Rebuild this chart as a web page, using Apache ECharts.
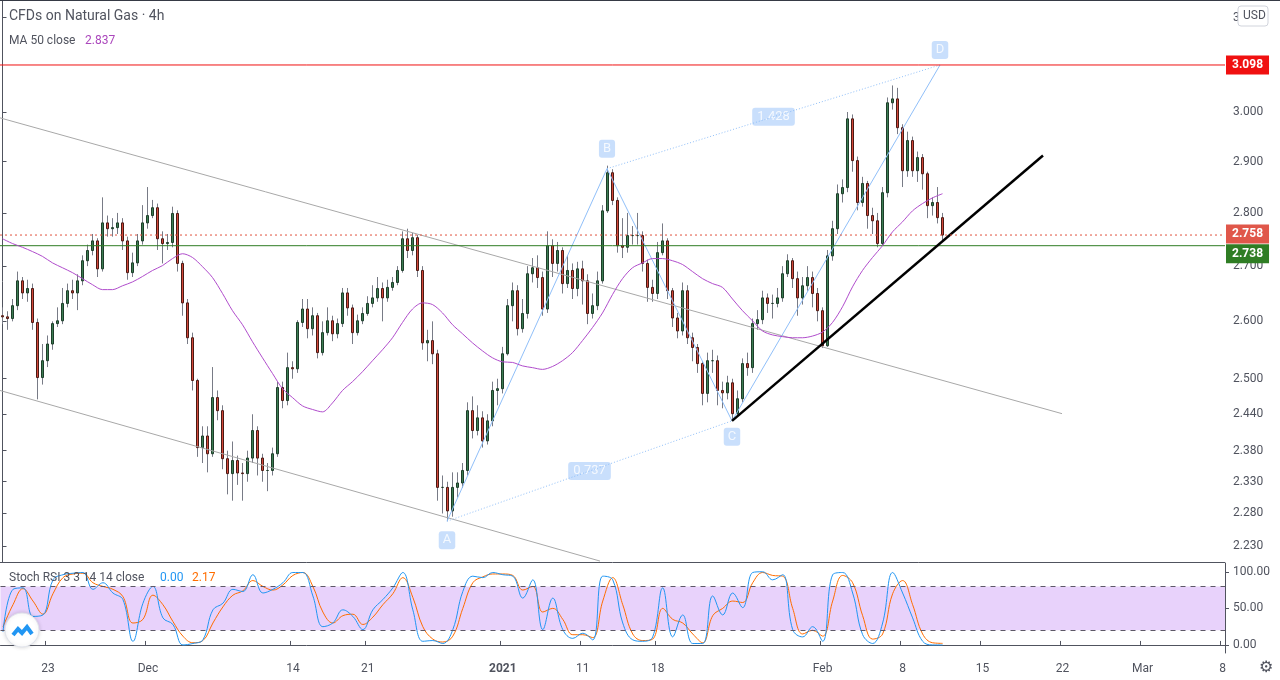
<!DOCTYPE html>
<html>
<head>
<meta charset="utf-8">
<script src="https://cdn.jsdelivr.net/npm/echarts@6/dist/echarts.min.js"></script>
<style>
  html, body { margin: 0; padding: 0; background: #fff; }
  #chart { width: 1280px; height: 680px; }
</style>
</head>
<body>
<div id="chart"></div>
<script>
// closes of each bar (price), first open given separately
var firstOpen = 2.610;
var closes = [2.608,2.605,2.628,2.673,2.651,2.659,2.598,2.502,2.531,2.560,2.596,2.601,2.632,2.655,2.651,2.673,2.710,2.729,2.747,2.695,
  2.781,2.770,2.772,2.781,2.747,2.688,2.706,2.747,2.781,2.795,2.810,2.751,2.742,2.744,2.799,2.705,2.633,2.571,2.497,2.385,
  2.404,2.375,2.468,2.446,2.367,2.343,2.364,2.344,2.343,2.368,2.413,2.368,2.348,2.348,2.375,2.485,2.463,2.519,2.517,2.598,
  2.622,2.587,2.610,2.545,2.580,2.601,2.578,2.596,2.651,2.624,2.580,2.601,2.614,2.632,2.642,2.659,2.642,2.661,2.670,2.692,
  2.751,2.729,2.753,2.692,2.562,2.566,2.543,2.321,2.321,2.284,2.321,2.328,2.348,2.446,2.413,2.434,2.396,2.429,2.480,2.483,
  2.543,2.628,2.655,2.587,2.614,2.686,2.697,2.679,2.622,2.738,2.705,2.729,2.668,2.692,2.659,2.695,2.673,2.614,2.628,2.673,
  2.804,2.878,2.824,2.738,2.735,2.757,2.757,2.757,2.705,2.661,2.650,2.725,2.747,2.655,2.606,2.583,2.655,2.571,2.554,2.526,
  2.475,2.531,2.531,2.480,2.476,2.493,2.441,2.466,2.526,2.519,2.596,2.603,2.642,2.632,2.632,2.642,2.686,2.710,2.677,2.642,
  2.664,2.679,2.650,2.619,2.557,2.719,2.770,2.837,2.849,2.986,2.902,2.820,2.857,2.795,2.785,2.742,2.839,3.019,3.027,2.968,
  2.882,2.942,2.882,2.908,2.876,2.814,2.820,2.791,2.758];
var highs = [2.625,2.618,2.640,2.690,2.680,2.675,2.668,2.605,2.560,2.575,2.600,2.625,2.660,2.668,2.675,2.685,2.720,2.740,2.760,2.752,
  2.830,2.795,2.790,2.800,2.790,2.755,2.725,2.760,2.815,2.850,2.825,2.818,2.765,2.760,2.812,2.805,2.710,2.640,2.580,2.500,
  2.420,2.420,2.520,2.480,2.455,2.380,2.395,2.372,2.360,2.380,2.440,2.420,2.375,2.360,2.385,2.495,2.495,2.545,2.530,2.602,
  2.640,2.640,2.625,2.615,2.600,2.625,2.610,2.605,2.660,2.660,2.630,2.612,2.625,2.645,2.665,2.680,2.670,2.675,2.680,2.700,
  2.765,2.770,2.762,2.758,2.700,2.585,2.600,2.550,2.340,2.330,2.345,2.345,2.360,2.460,2.470,2.455,2.445,2.440,2.495,2.500,
  2.555,2.640,2.670,2.665,2.640,2.700,2.715,2.720,2.690,2.765,2.750,2.745,2.735,2.720,2.705,2.708,2.710,2.685,2.650,2.690,
  2.815,2.892,2.885,2.830,2.790,2.800,2.775,2.800,2.765,2.712,2.675,2.745,2.780,2.752,2.660,2.615,2.670,2.665,2.580,2.560,
  2.530,2.545,2.550,2.540,2.495,2.505,2.500,2.480,2.535,2.545,2.605,2.620,2.655,2.650,2.648,2.660,2.700,2.722,2.715,2.690,
  2.680,2.700,2.690,2.660,2.625,2.730,2.785,2.855,2.865,3.000,2.995,2.910,2.870,2.862,2.810,2.800,2.850,3.030,3.055,3.050,
  2.975,2.960,2.950,2.920,2.915,2.880,2.830,2.850,2.800];
var lows = [2.595,2.585,2.600,2.620,2.640,2.635,2.585,2.465,2.490,2.520,2.550,2.590,2.595,2.625,2.640,2.620,2.665,2.700,2.720,2.680,
  2.690,2.755,2.755,2.760,2.730,2.675,2.680,2.700,2.740,2.770,2.790,2.730,2.705,2.730,2.735,2.690,2.610,2.560,2.480,2.370,
  2.360,2.345,2.370,2.430,2.350,2.310,2.300,2.325,2.300,2.330,2.360,2.340,2.330,2.315,2.340,2.370,2.450,2.455,2.500,2.510,
  2.590,2.570,2.575,2.535,2.540,2.575,2.565,2.570,2.590,2.610,2.560,2.575,2.595,2.610,2.625,2.635,2.600,2.635,2.655,2.665,
  2.688,2.715,2.720,2.680,2.550,2.530,2.525,2.300,2.280,2.268,2.275,2.305,2.320,2.340,2.400,2.405,2.385,2.390,2.420,2.455,
  2.475,2.540,2.600,2.575,2.580,2.605,2.670,2.660,2.610,2.615,2.680,2.690,2.650,2.660,2.640,2.645,2.630,2.595,2.605,2.620,
  2.668,2.800,2.815,2.725,2.715,2.725,2.740,2.740,2.690,2.635,2.635,2.640,2.720,2.640,2.590,2.570,2.575,2.560,2.530,2.510,
  2.455,2.460,2.510,2.455,2.450,2.465,2.431,2.436,2.460,2.505,2.510,2.585,2.595,2.615,2.605,2.625,2.635,2.680,2.660,2.610,
  2.630,2.655,2.625,2.600,2.553,2.555,2.710,2.760,2.820,2.840,2.880,2.805,2.812,2.770,2.760,2.735,2.738,2.830,3.005,2.955,
  2.850,2.870,2.870,2.860,2.845,2.790,2.795,2.780,2.748];
// MA 50 close, sampled every second bar
var ma50 = [2.751,2.742,2.735,2.727,2.718,2.706,2.697,2.688,2.677,2.666,2.657,2.657,2.664,2.671,2.681,2.692,2.701,2.714,2.723,2.716,
  2.699,2.679,2.650,2.619,2.594,2.564,2.536,2.509,2.483,2.468,2.454,2.448,2.444,2.459,2.480,2.495,2.512,2.531,2.550,2.571,
  2.598,2.622,2.633,2.630,2.615,2.594,2.578,2.562,2.548,2.536,2.529,2.528,2.522,2.519,2.516,2.521,2.531,2.545,2.566,2.589,
  2.615,2.648,2.677,2.697,2.706,2.714,2.714,2.710,2.703,2.690,2.677,2.668,2.661,2.640,2.619,2.601,2.583,2.576,2.573,2.571,
  2.571,2.574,2.581,2.598,2.626,2.662,2.692,2.716,2.738,2.764,2.783,2.804,2.818,2.829,2.837];
// Stoch RSI K and D, sampled every second bar
var stochK = [18,76,78,39,41,89,96,98,99,76,85,71,62,5,57,80,37,28,0,2,7,48,57,76,73,96,71,76,85,99,99,67,25,30,48,39,21,48,62,78,
  99,48,5,6,2,21,73,94,92,99,96,94,64,89,21,64,21,9,16,7,94,89,30,7,5,11,78,11,41,2,2,67,41,71,51,99,100,89,96,21,
  11,25,5,96,99,71,14,2,30,99,71,37,5,0,0];
var stochD = [25,55,77,60,42,70,92,97,98,85,80,76,66,30,35,68,55,32,12,3,6,30,52,68,74,88,80,75,82,95,99,80,45,30,40,42,28,38,55,70,
  92,65,25,8,4,12,50,85,93,97,97,95,75,80,45,50,35,14,14,10,60,92,55,15,6,8,50,35,30,15,3,40,50,60,58,85,99,95,94,50,
  15,20,12,60,95,85,40,8,15,70,88,55,15,3,2.17];
var priceTicks = [3.2,3.0,2.9,2.8,2.7,2.6,2.5,2.44,2.38,2.33,2.28,2.23];
var dateLabelIdx = [9,29,58,73,100,116,131,164,180,196,212,228,244];
var dateLabels = ['23','Dec','14','21','2021','11','18','Feb','8','15','22','Mar','8'];
var resistance = 3.098, lastPrice = 2.758, support = 2.738;
// drawing points: [bar position, price]
var chanUpper = [[-0.5, 2.988], [211.9, 2.441]];
var chanLower = [[-0.5, 2.480], [119.5, 2.207]];
var trendLine = [[145.9, 2.429], [208.1, 2.912]];
var ptA = [88.9, 2.268], ptB = [120.9, 2.886], ptC = [145.9, 2.429], ptD = [187.5, 3.098];
var ratioAC = '0.737', ratioBD = '1.428';

var N = 245;
var L = Math.log;
var cats = [], cats2 = [];
for (var i = 0; i < N; i++) { cats.push(String(i)); cats2.push(''); }
dateLabelIdx.forEach(function (idx, k) { cats2[idx] = dateLabels[k]; });

var wickData = [], bodyData = [];
var prev = firstOpen;
for (var i = 0; i < closes.length; i++) {
  var o = prev, c = closes[i];
  wickData.push([L(o), L(c), L(lows[i]), L(highs[i])]);
  bodyData.push([L(o), L(c), L(Math.min(o, c)), L(Math.max(o, c))]);
  prev = c;
}
var maData = ma50.map(function (v, k) { return [k * 2, L(v)]; });
var kData = stochK.map(function (v, k) { return [k * 2, v]; });
var dData = stochD.map(function (v, k) { return [k * 2, v]; });
function lp(p) { return [p[0], L(p[1])]; }
function mid(p, q) { return [(p[0] + q[0]) / 2, (L(p[1]) + L(q[1])) / 2]; }

var blueLine = '#90bff9';
function pointLabel(p, text, dy) {
  return { value: lp(p), label: { show: true, formatter: text, offset: [0, dy] } };
}
// horizontal level across the pane with its price tag on the axis
function level(price, color, tagColor, type, z, dy) {
  return { type: 'line', xAxisIndex: 1, yAxisIndex: 0, z: z, silent: true, symbol: 'none',
    data: [[-0.5, L(price)], [N - 0.5, L(price)]],
    lineStyle: { color: color, type: type, width: 1 },
    endLabel: { show: true, distance: 1, offset: [0, dy], color: '#fff', fontSize: 12, fontWeight: 'bold',
      padding: [4, 6, 3, 6], backgroundColor: tagColor, formatter: price.toFixed(3) } };
}

var chart = echarts.init(document.getElementById('chart'));
chart.setOption({
  animation: false,
  backgroundColor: '#ffffff',
  textStyle: { fontFamily: 'Roboto, "Open Sans", sans-serif' },
  grid: [
    { left: 0, right: 55, top: 1, height: 561 },
    { left: 0, right: 55, top: 563, height: 90 }
  ],
  xAxis: [
    { type: 'category', gridIndex: 0, data: cats, show: false },
    { type: 'value', gridIndex: 0, min: -0.5, max: N - 0.5, show: false },
    { type: 'category', gridIndex: 1, data: cats2, position: 'bottom',
      axisLine: { show: true, lineStyle: { color: '#50535e' } },
      axisTick: { show: true, inside: true, length: 4, interval: function (i, v) { return v !== ''; }, lineStyle: { color: '#50535e' } },
      axisLabel: { interval: 0, color: '#50535e', fontSize: 12, margin: 10,
        formatter: function (v) { return v === '2021' ? '{b|2021}' : v; },
        rich: { b: { fontWeight: 'bold', color: '#50535e', fontSize: 12 } } },
      splitLine: { show: false } }
  ],
  yAxis: [
    { type: 'value', gridIndex: 0, position: 'right', min: 0.7910, max: 1.1745,
      axisLine: { show: true, lineStyle: { color: '#50535e' } },
      axisTick: { show: true, length: 4, customValues: priceTicks.map(L), lineStyle: { color: '#50535e' } },
      axisLabel: { customValues: priceTicks.map(L), color: '#50535e', fontSize: 12, margin: 8,
        formatter: function (v) { return Math.exp(v).toFixed(3); } },
      splitLine: { show: false } },
    { type: 'value', gridIndex: 1, position: 'right', min: -11, max: 112,
      axisLine: { show: true, lineStyle: { color: '#50535e' } },
      axisTick: { show: true, length: 4, customValues: [0, 50, 100], lineStyle: { color: '#50535e' } },
      axisLabel: { customValues: [0, 50, 100], color: '#50535e', fontSize: 12, margin: 8,
        formatter: function (v) { return v.toFixed(2); } },
      splitLine: { show: false } }
  ],
  series: [
    { type: 'line', xAxisIndex: 1, yAxisIndex: 0, data: chanUpper.map(lp), symbol: 'none', silent: true,
      lineStyle: { color: '#a8a8a8', width: 1 } },
    { type: 'line', xAxisIndex: 1, yAxisIndex: 0, data: chanLower.map(lp), symbol: 'none', silent: true,
      lineStyle: { color: '#a8a8a8', width: 1 } },
    { type: 'line', xAxisIndex: 1, yAxisIndex: 0, data: [ptA, ptB, ptC, ptD].map(lp), symbol: 'none', silent: true,
      lineStyle: { color: blueLine, width: 1 } },
    { type: 'line', xAxisIndex: 1, yAxisIndex: 0, data: [ptA, ptC].map(lp), symbol: 'none', silent: true,
      lineStyle: { color: blueLine, width: 1, type: [1, 2] } },
    { type: 'line', xAxisIndex: 1, yAxisIndex: 0, data: [ptB, ptD].map(lp), symbol: 'none', silent: true,
      lineStyle: { color: blueLine, width: 1, type: [1, 2] } },
    level(resistance, '#f01010', '#f01010', 'solid', 3, 0),
    level(support, '#2f7d24', '#2f7d24', 'solid', 3, 8),
    level(lastPrice, '#e0533e', '#e0574a', [2, 3], 4, -1),
    { type: 'line', xAxisIndex: 0, yAxisIndex: 0, data: maData, symbol: 'none', smooth: 0.3, silent: true,
      lineStyle: { color: '#b04ccc', width: 1 } },
    { type: 'candlestick', xAxisIndex: 0, yAxisIndex: 0, data: wickData, barWidth: 1, silent: true,
      itemStyle: { color: '#787b86', color0: '#787b86', borderColor: '#787b86', borderColor0: '#787b86', borderWidth: 1 } },
    { type: 'candlestick', xAxisIndex: 0, yAxisIndex: 0, data: bodyData, barWidth: 3, silent: true,
      itemStyle: { color: '#3b7d52', color0: '#d2473a', borderColor: '#1e3d2a', borderColor0: '#4b1a14', borderWidth: 1 } },
    { type: 'line', xAxisIndex: 1, yAxisIndex: 0, data: trendLine.map(lp), symbol: 'none', silent: true,
      lineStyle: { color: '#000', width: 2.5 } },
    { type: 'scatter', xAxisIndex: 1, yAxisIndex: 0, symbolSize: 0, silent: true,
      label: { show: true, color: '#fff', fontSize: 13, backgroundColor: '#bcd7fb', borderRadius: 3, padding: [3, 4, 2, 4] },
      data: [
        pointLabel(ptA, 'A', 19), pointLabel(ptB, 'B', -20), pointLabel(ptC, 'C', 16), pointLabel(ptD, 'D', -15),
        { value: mid(ptA, ptC), label: { show: true, formatter: ratioAC, fontSize: 13, padding: [3, 5, 2, 5] } },
        { value: mid(ptB, ptD), label: { show: true, formatter: ratioBD, fontSize: 13, padding: [3, 5, 2, 5] } }
      ] },
    { type: 'line', xAxisIndex: 2, yAxisIndex: 1, data: dData, symbol: 'none', smooth: 0.4, silent: true,
      lineStyle: { color: '#ff6d00', width: 1 },
      markArea: { silent: true, itemStyle: { color: '#e8d2fb' }, data: [[{ yAxis: 20 }, { yAxis: 80 }]] },
      markLine: { silent: true, symbol: 'none', label: { show: false },
        lineStyle: { color: '#5d5866', type: [5, 5], width: 1 }, data: [{ yAxis: 20 }, { yAxis: 80 }] } },
    { type: 'line', xAxisIndex: 2, yAxisIndex: 1, data: kData, symbol: 'none', smooth: 0.4, silent: true,
      lineStyle: { color: '#2196f3', width: 1 } }
  ],
  graphic: [
    { type: 'line', z: 100, shape: { x1: 0, y1: 0.5, x2: 1280, y2: 0.5 }, style: { stroke: '#363a45', lineWidth: 1 } },
    { type: 'line', z: 100, shape: { x1: 0, y1: 562.5, x2: 1225, y2: 562.5 }, style: { stroke: '#50535e', lineWidth: 1 } },
    { type: 'text', z: 100, left: 9, top: 9, style: { text: 'CFDs on Natural Gas · 4h', fill: '#50535e', fontSize: 14, fontFamily: 'Roboto' } },
    { type: 'text', z: 100, left: 9, top: 35, style: { text: 'MA 50 close', fill: '#50535e', fontSize: 12, fontFamily: 'Roboto' } },
    { type: 'text', z: 100, left: 85, top: 35, style: { text: ma50[ma50.length - 1].toFixed(3), fill: '#ab47bc', fontSize: 12, fontFamily: 'Roboto' } },
    { type: 'text', z: 100, left: 9, top: 572, style: { text: 'Stoch RSI 3 3 14 14 close', fill: '#50535e', fontSize: 12, fontFamily: 'Roboto' } },
    { type: 'text', z: 100, left: 160, top: 572, style: { text: stochK[stochK.length - 1].toFixed(2), fill: '#2196f3', fontSize: 12, fontFamily: 'Roboto' } },
    { type: 'text', z: 100, left: 192, top: 572, style: { text: stochD[stochD.length - 1].toFixed(2), fill: '#ff6d00', fontSize: 12, fontFamily: 'Roboto' } },
    { type: 'rect', z: 100, shape: { x: 1238, y: 6, width: 30, height: 20, r: 3 }, style: { fill: '#fff', stroke: '#d1d4dc' } },
    { type: 'text', z: 101, x: 1243, y: 10, style: { text: 'USD', fill: '#50535e', fontSize: 12, fontFamily: 'Roboto' } },
    { type: 'circle', z: 100, shape: { cx: 22, cy: 630, r: 17 }, style: { fill: '#fff', stroke: '#e0e3eb', shadowBlur: 4, shadowColor: 'rgba(0,0,0,0.15)' } },
    { type: 'polyline', z: 101, shape: { points: [[13, 635], [18, 629], [22, 633], [27, 627], [32, 634]] }, style: { stroke: '#2196f3', lineWidth: 4, fill: null } },
    { type: 'text', z: 100, x: 1259, y: 660, style: { text: '⚙', fill: '#50535e', fontSize: 16 } }
  ]
});
</script>
</body>
</html>
